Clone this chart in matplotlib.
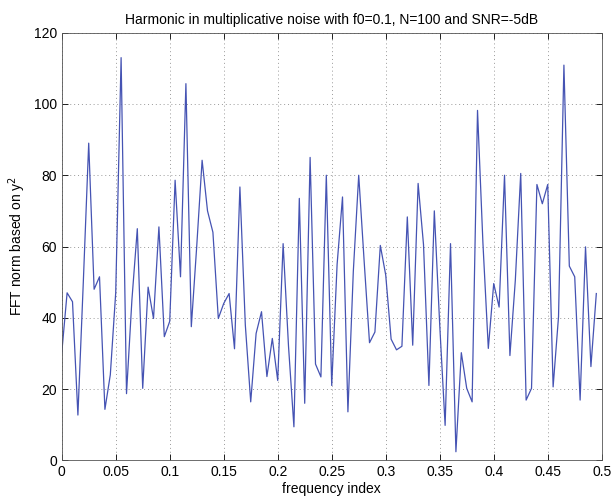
import numpy as np
import matplotlib
matplotlib.use("Agg")
import matplotlib.pyplot as plt

plt.rcParams['font.family'] = ['Liberation Sans', 'DejaVu Sans']

# FFT magnitude values, one per 0.005 step in frequency
fft_vals = [30, 47, 44.5, 12.7, 50, 89, 48, 51.5, 14.3, 24,
            47, 113, 18.7, 45, 65, 20.2, 48.6, 39.8, 65.5, 34.7,
            39, 78.6, 51.5, 105.7, 37.5, 60, 84.2, 70, 64, 39.8,
            44, 46.8, 31.3, 76.7, 38, 16.4, 35.6, 41.7, 23.5, 34.2,
            22.4, 60.8, 32, 9.4, 73.5, 16, 85, 27, 23.4, 80,
            21, 55, 73.9, 13.6, 53, 80, 56, 33, 36, 60.3,
            52, 34, 31, 32, 68.3, 32.3, 77.7, 60.5, 21, 70,
            38, 9.8, 60.8, 2.4, 30.2, 20.2, 16.4, 98.2, 61, 31.4,
            49.6, 43, 80, 29.4, 50.5, 80.5, 16.9, 20.2, 77.4, 72,
            77.4, 20.6, 40.3, 110.9, 54.5, 51.5, 16.9, 59.9, 26.3, 46.8]
freq = np.arange(len(fft_vals)) / 200.0

xticks = [0, 0.05, 0.1, 0.15, 0.2, 0.25, 0.3, 0.35, 0.4, 0.45, 0.5]
xticklabels = ['0', '0.05', '0.1', '0.15', '0.2', '0.25', '0.3', '0.35', '0.4', '0.45', '0.5']
yticks = [0, 20, 40, 60, 80, 100, 120]

fig = plt.figure(figsize=(6.14, 5.0), dpi=100)
ax = fig.add_axes([0.1005, 0.0794, 0.8795, 0.8552])
ax.plot(freq, fft_vals, color='#4553b3', lw=0.9)

ax.set_xlim(0, 0.5)
ax.set_ylim(0, 120)
ax.set_xticks(xticks)
ax.set_xticklabels(xticklabels)
ax.set_yticks(yticks)
ax.tick_params(direction='in', top=True, right=True, labelsize=10, length=4, width=0.6)
ax.grid(True, linestyle=(0, (1, 3)), color='#999999', lw=0.7)
for s in ax.spines.values():
    s.set_linewidth(0.6)
    s.set_color('#555555')

ax.set_title('Harmonic in multiplicative noise with f0=0.1, N=100 and SNR=-5dB', fontsize=10)
ax.set_xlabel('frequency index', fontsize=10, labelpad=2)
ax.set_ylabel('FFT norm based on y$^2$', fontsize=10)

fig.savefig('out.png', dpi=100)
